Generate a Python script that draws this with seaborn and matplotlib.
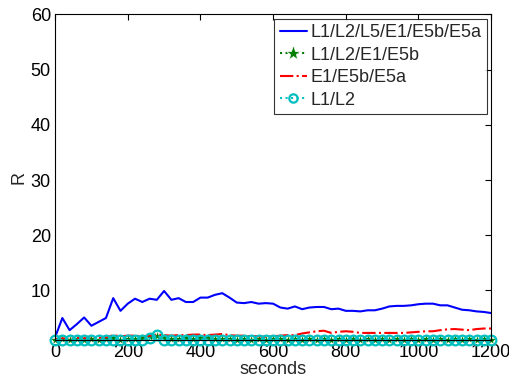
import matplotlib
matplotlib.use("Agg")
import matplotlib.pyplot as plt
import seaborn as sns
import pandas as pd
import numpy as np

sns.set_theme(style="white")
plt.rcParams["font.family"] = ["Liberation Sans", "DejaVu Sans"]

# time axis, one sample every 20 s
seconds = list(range(0, 1201, 20))

r_all = [1.5, 5.0, 2.8, 3.9, 5.1, 3.6, 4.3, 5.0, 8.6, 6.3, 7.6, 8.5, 7.9, 8.5, 8.3,
         9.9, 8.3, 8.6, 7.9, 7.9, 8.7, 8.7, 9.2, 9.5, 8.7, 7.8, 7.7, 7.9, 7.6, 7.7,
         7.6, 6.9, 6.7, 7.1, 6.6, 6.9, 7.0, 7.0, 6.6, 6.7, 6.3, 6.3, 6.2, 6.4, 6.4,
         6.7, 7.1, 7.2, 7.2, 7.3, 7.5, 7.6, 7.6, 7.3, 7.3, 6.9, 6.5, 6.4, 6.2, 6.1,
         5.9]
r_l1l2e1e5b = [1.1, 1.2, 1.1, 1.2, 1.1, 1.2, 1.1, 1.2, 1.3, 1.1, 1.2, 1.2, 1.3, 1.6, 1.8,
               1.4, 1.2, 1.2, 1.3, 1.2, 1.3, 1.4, 1.2, 1.2, 1.2, 1.1, 1.2, 1.1, 1.2, 1.1,
               1.2, 1.2, 1.1, 1.2, 1.1, 1.2, 1.1, 1.2, 1.1, 1.2, 1.1, 1.2, 1.1, 1.2, 1.1,
               1.2, 1.1, 1.2, 1.1, 1.2, 1.1, 1.2, 1.1, 1.2, 1.1, 1.2, 1.1, 1.2, 1.1, 1.2,
               1.1]
r_e1e5be5a = [1.2, 1.3, 1.3, 1.4, 1.3, 1.5, 1.4, 1.5, 1.9, 1.7, 1.8, 1.8, 1.7, 1.8, 2.0,
              1.9, 1.8, 1.9, 1.9, 2.0, 2.0, 1.9, 2.0, 2.1, 1.9, 1.8, 1.8, 1.7, 1.7, 1.6,
              1.7, 1.8, 1.9, 1.9, 2.2, 2.4, 2.6, 2.7, 2.3, 2.5, 2.6, 2.5, 2.3, 2.3, 2.3,
              2.3, 2.3, 2.3, 2.3, 2.4, 2.5, 2.6, 2.6, 2.8, 2.95, 3.0, 2.9, 2.8, 3.0, 3.1,
              3.1]
r_l1l2 = [1.0, 1.0, 1.0, 1.0, 1.0, 1.1, 1.0, 1.0, 1.0, 1.0, 1.0, 1.0, 1.0, 1.3, 2.0,
          0.95, 1.0, 1.0, 1.0, 1.0, 1.1, 1.1, 1.0, 1.0, 1.0, 1.0, 1.0, 1.0, 1.0, 1.0,
          1.0, 1.0, 1.0, 1.0, 1.0, 1.0, 1.0, 1.0, 1.0, 1.0, 1.0, 1.0, 1.0, 1.0, 1.0,
          1.0, 1.0, 1.0, 1.0, 1.0, 1.0, 1.0, 1.0, 1.0, 1.0, 1.0, 1.0, 1.0, 1.0, 1.0,
          1.0]

labels = ["L1/L2/L5/E1/E5b/E5a", "L1/L2/E1/E5b", "E1/E5b/E5a", "L1/L2"]

df = pd.DataFrame({"seconds": seconds, labels[0]: r_all, labels[1]: r_l1l2e1e5b,
                   labels[2]: r_e1e5be5a, labels[3]: r_l1l2})

fig = plt.figure(figsize=(5.1, 3.8), dpi=100)
ax = fig.add_axes([0.108, 0.105, 0.855, 0.857])

sns.lineplot(data=df, x="seconds", y=labels[0], ax=ax, color="#0000ff",
             linewidth=1.5, label=labels[0])
sns.lineplot(data=df, x="seconds", y=labels[1], ax=ax, color="#007f00",
             linewidth=1.5, linestyle=":", marker="*", markersize=8,
             markeredgewidth=0.5, label=labels[1], clip_on=False)
sns.lineplot(data=df, x="seconds", y=labels[2], ax=ax, color="#ff0000",
             linewidth=1.5, linestyle="-.", label=labels[2])
sns.lineplot(data=df, x="seconds", y=labels[3], ax=ax, color="#00bfbf",
             linewidth=1.5, linestyle=":", marker="o", markersize=7,
             markerfacecolor="none", markeredgewidth=1.6, markeredgecolor="#00bfbf",
             label=labels[3], clip_on=False)

ax.set_xlim(0, 1200)
ax.set_ylim(1, 60)
ax.set_xticks(range(0, 1201, 200))
ax.set_yticks(range(10, 61, 10))
ax.tick_params(direction="in", length=4, width=0.8, colors="black",
               labelsize=13, top=True, right=True, pad=3)
for s in ax.spines.values():
    s.set_color("black")
    s.set_linewidth(0.8)
ax.set_xlabel("seconds", fontsize=13, labelpad=0)
ax.set_ylabel("R", fontsize=13, labelpad=2)

leg = ax.legend(loc="upper right", fontsize=13, frameon=True, fancybox=False,
                borderaxespad=0.25, handlelength=1.5, handletextpad=0.2,
                labelspacing=0.3, borderpad=0.3, edgecolor="black")
leg.get_frame().set_linewidth(0.8)
handles = leg.legend_handles
handles[1].set_markersize(11)
handles[3].set_markersize(6)

fig.savefig("out.png", dpi=100)
